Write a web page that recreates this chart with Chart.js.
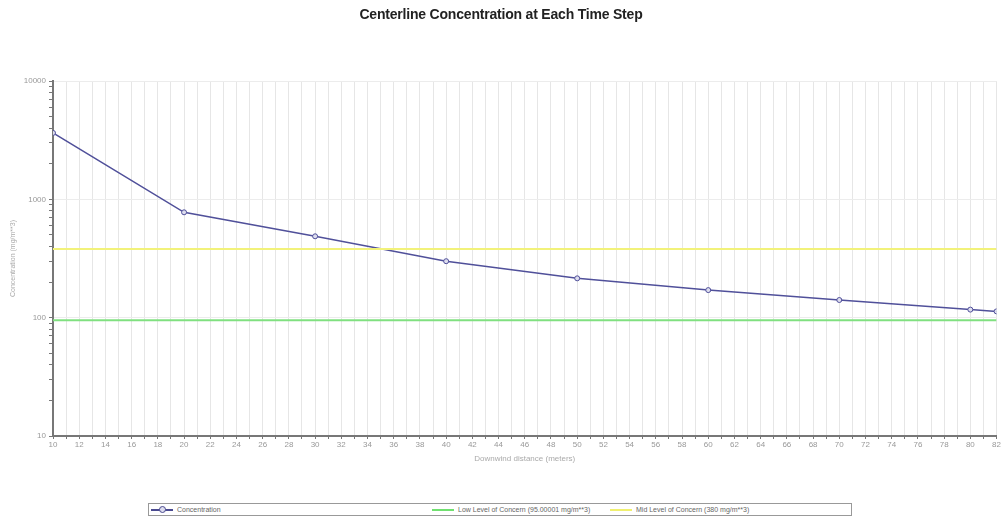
<!DOCTYPE html>
<html>
<head>
<meta charset="utf-8">
<script src="https://cdn.jsdelivr.net/npm/chart.js@4/dist/chart.umd.min.js"></script>
<style>
  body { margin: 0; background: #fff; }
  #wrap { position: relative; width: 1002px; height: 517px; }
  #title { position: absolute; left: 0; width: 1002px; top: 6px; text-align: center;
    font: bold 14px "Liberation Sans", Arial, sans-serif; color: #222; letter-spacing: -0.2px; }
  #legend { position: absolute; left: 148px; top: 503px; width: 702px; height: 11px;
    border: 1px solid #999; font: 7px "Liberation Sans", sans-serif; color: #666; }
  .item { position: absolute; top: 0; height: 11px; line-height: 11px; white-space: nowrap; }
  .swatch { display: inline-block; vertical-align: middle; width: 22px; height: 2px; margin-right: 4px; position: relative; }
  .dot { position: absolute; left: 8px; top: -3px; width: 5px; height: 5px; border: 1px solid #4a4a90;
    border-radius: 50%; background: #dde; }
</style>
</head>
<body>
<div id="wrap">
  <div id="title">Centerline Concentration at Each Time Step</div>
  <canvas id="chart" width="1002" height="500"></canvas>
  <div id="legend">
    <div class="item" style="left:2px"><span class="swatch" style="background:#4a4a90"><span class="dot"></span></span>Concentration</div>
    <div class="item" style="left:283px"><span class="swatch" style="background:#70e070"></span>Low Level of Concern (95.00001 mg/m**3)</div>
    <div class="item" style="left:461px"><span class="swatch" style="background:#f0f070"></span>Mid Level of Concern (380 mg/m**3)</div>
  </div>
</div>
<script>
const distances = [10, 20, 30, 40, 50, 60, 70, 80, 82];
const concentration = [3640, 777, 487, 300, 215, 171, 141, 117, 113];
const lowLevel = 95.00001;
const midLevel = 380;
const xRange = [10, 82];
const yTicks = [10, 20, 30, 40, 50, 60, 70, 80, 90, 100, 200, 300, 400, 500, 600, 700, 800, 900,
  1000, 2000, 3000, 4000, 5000, 6000, 7000, 8000, 9000, 10000];
const yLabels = [10, 100, 1000, 10000];

const tickFont = { family: '"Liberation Sans Narrow", "Liberation Sans", sans-serif', size: 8 };

new Chart(document.getElementById('chart'), {
  type: 'line',
  data: {
    datasets: [
      {
        label: 'Low Level of Concern',
        data: xRange.map(x => ({ x: x, y: lowLevel })),
        borderColor: '#80e080',
        borderWidth: 2,
        pointRadius: 0
      },
      {
        label: 'Mid Level of Concern',
        data: xRange.map(x => ({ x: x, y: midLevel })),
        borderColor: '#f2f27a',
        borderWidth: 2,
        pointRadius: 0
      },
      {
        label: 'Concentration',
        data: distances.map((d, i) => ({ x: d, y: concentration[i] })),
        borderColor: '#50509a',
        borderWidth: 1.5,
        pointRadius: 2.5,
        pointBorderWidth: 1,
        pointBackgroundColor: '#dde',
        pointBorderColor: '#50509a'
      }
    ]
  },
  options: {
    responsive: false,
    animation: false,
    layout: { padding: { left: 0, right: 5, top: 81, bottom: 36 } },
    plugins: { legend: { display: false }, tooltip: { enabled: false } },
    scales: {
      x: {
        type: 'linear',
        min: 10,
        max: 82,
        afterFit: s => { s.height = 28; },
        ticks: {
          stepSize: 1,
          autoSkip: false,
          maxRotation: 0,
          font: tickFont,
          color: '#999',
          padding: 1,
          callback: v => (v % 2 === 0 ? v : '')
        },
        grid: { color: '#e6e6e6', tickColor: '#777', tickLength: 3 },
        border: { color: '#777', width: 2 },
        title: { display: true, text: 'Downwind distance (meters)', font: tickFont, color: '#aaa', padding: 0 }
      },
      y: {
        type: 'logarithmic',
        min: 10,
        max: 10000,
        afterFit: s => { s.width = 53; },
        afterBuildTicks: s => { s.ticks = yTicks.map(v => ({ value: v })); },
        ticks: {
          autoSkip: false,
          font: tickFont,
          color: '#999',
          padding: 3,
          callback: v => (yLabels.includes(v) ? String(v) : '')
        },
        grid: {
          color: c => (c.tick && yLabels.includes(c.tick.value) ? '#ececec' : 'rgba(0,0,0,0)'),
          tickColor: '#777',
          tickLength: 4
        },
        border: { color: '#777', width: 2 },
        title: { display: true, text: 'Concentration (mg/m**3)', font: { family: tickFont.family, size: 7 }, color: '#aaa', padding: { top: 9, bottom: 0 } }
      }
    }
  }
});
</script>
</body>
</html>
